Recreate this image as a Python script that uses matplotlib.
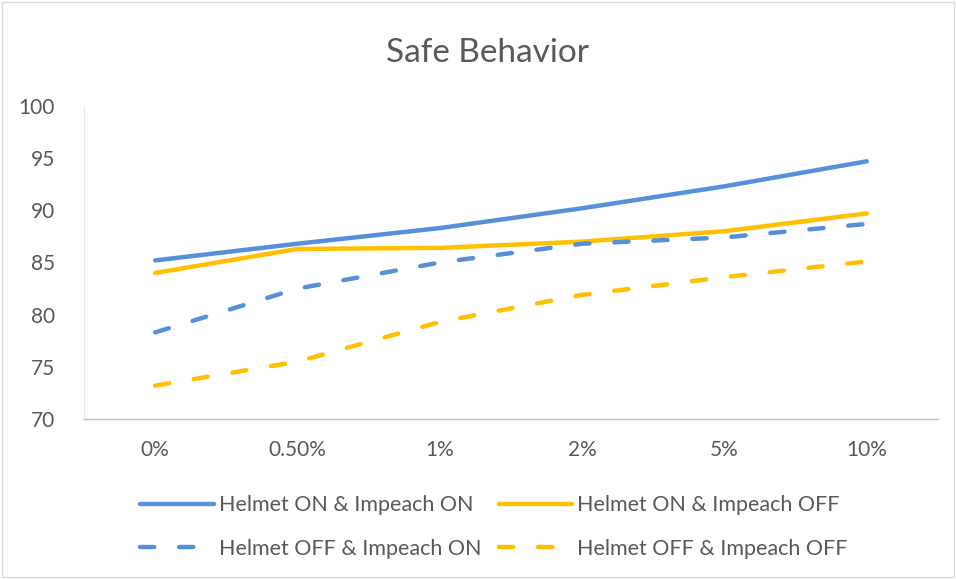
import matplotlib.pyplot as plt
from matplotlib.patches import Rectangle

# categories and series values
categorias = ['0%', '0.50%', '1%', '2%', '5%', '10%']
on_on = [85.2, 86.8, 88.3, 90.2, 92.3, 94.7]
on_off = [84.0, 86.3, 86.4, 87.0, 88.0, 89.7]
off_on = [78.3, 82.5, 85.0, 86.8, 87.4, 88.7]
off_off = [73.2, 75.5, 79.3, 81.9, 83.6, 85.1]

azul = '#5690D8'
amarillo = '#FFC000'
gris = '#595959'

plt.rcParams['font.family'] = ['Lato', 'DejaVu Sans']

fig = plt.figure(figsize=(9.56, 5.79), dpi=100)
ax = fig.add_axes([84 / 956, 1 - 419 / 579, (938 - 84) / 956, (419 - 106) / 579])

x = [i + 0.5 for i in range(len(categorias))]
lw = 3.2
l1, = ax.plot(x, on_on, color=azul, lw=lw, solid_capstyle='round', label='Helmet ON & Impeach ON')
l2, = ax.plot(x, on_off, color=amarillo, lw=lw, solid_capstyle='round', label='Helmet ON & Impeach OFF')
l3, = ax.plot(x, off_on, color=azul, lw=lw, dashes=(3.2, 5.6), dash_capstyle='round',
              label='Helmet OFF & Impeach ON')
l4, = ax.plot(x, off_off, color=amarillo, lw=lw, dashes=(3.2, 5.6), dash_capstyle='round',
              label='Helmet OFF & Impeach OFF')

ax.set_xlim(0, 6)
ax.set_ylim(70, 100)
ax.set_yticks(range(70, 101, 5))
ax.set_xticks(x)
ax.set_xticklabels(categorias)
ax.tick_params(length=0, labelsize=15, colors=gris)
ax.tick_params(axis='y', pad=21)
ax.tick_params(axis='x', pad=15)

for lado in ['top', 'right']:
    ax.spines[lado].set_visible(False)
ax.spines['left'].set_color('#ECEAE2')
ax.spines['bottom'].set_color('#BFBFBF')
ax.spines['bottom'].set_linewidth(1)

fig.text(488 / 956, 1 - 53 / 579, 'Safe Behavior', ha='center', va='center', fontsize=24, color=gris)

# leyenda en dos filas, orden por filas
fig.legend([l1, l3, l2, l4], [l.get_label() for l in [l1, l3, l2, l4]],
           ncol=2, loc='center', bbox_to_anchor=(494 / 956, 1 - 527 / 579),
           frameon=False, fontsize=15.5, labelcolor=gris, handlelength=3.4,
           handletextpad=0.25, columnspacing=0.8, labelspacing=1.1)

# borde del gráfico
fig.add_artist(Rectangle((0.002, 0.003), 0.996, 0.994, transform=fig.transFigure,
                         fill=False, edgecolor='#D9D9D9', lw=1))

fig.savefig('out.png', dpi=100)
